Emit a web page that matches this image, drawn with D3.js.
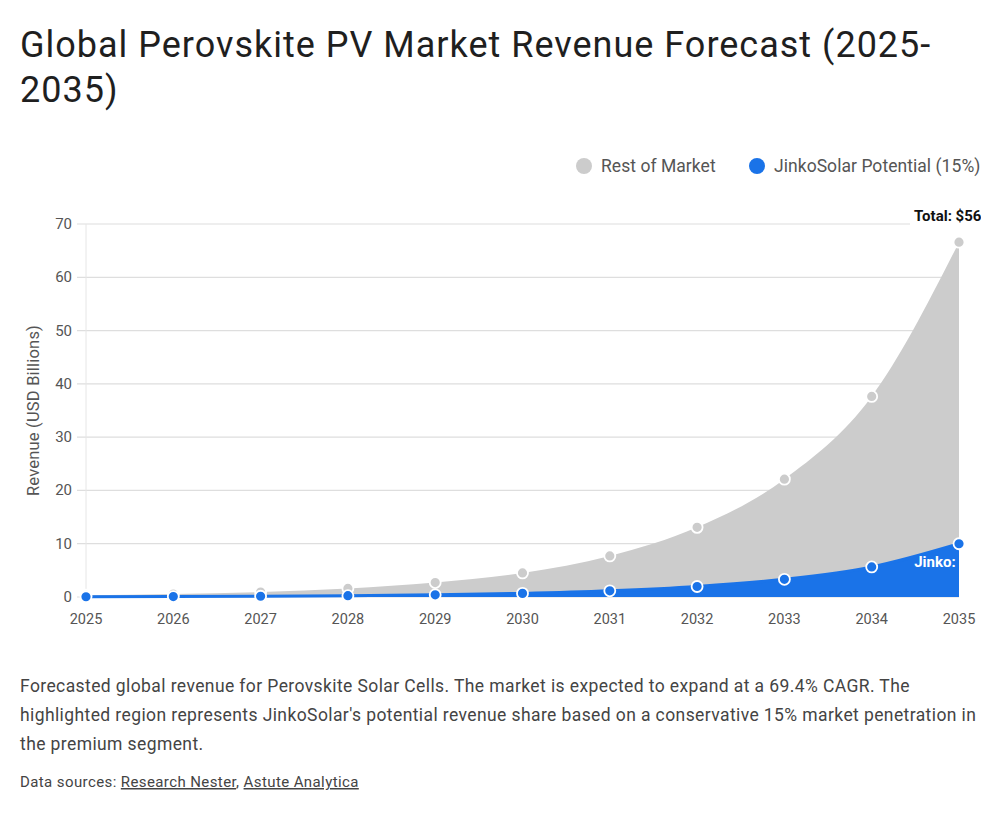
<!DOCTYPE html>
<html>
<head>
<meta charset="utf-8">
<script src="https://cdn.jsdelivr.net/npm/d3@7"></script>
<style>
  body { margin: 0; background: #fff; font-family: Roboto, "Open Sans", sans-serif; }
  #chart { position: absolute; left: 0; top: 0; }
</style>
</head>
<body>
<svg id="chart" width="1000" height="813"></svg>
<script>
const years = [2025, 2026, 2027, 2028, 2029, 2030, 2031, 2032, 2033, 2034, 2035];
const jinko = [0.05, 0.08, 0.14, 0.24, 0.41, 0.68, 1.16, 1.97, 3.32, 5.64, 9.99];
const rest = [0.28, 0.48, 0.80, 1.36, 2.30, 3.83, 6.55, 11.1, 18.8, 32.0, 56.6];
const yTicks = [0, 10, 20, 30, 40, 50, 60, 70];
const seriesNames = ['Rest of Market', 'JinkoSolar Potential (15%)'];
const titleLines = ['Global Perovskite PV Market Revenue Forecast (2025-', '2035)'];
const captionLines = [
  'Forecasted global revenue for Perovskite Solar Cells. The market is expected to expand at a 69.4% CAGR. The',
  "highlighted region represents JinkoSolar's potential revenue share based on a conservative 15% market penetration in",
  'the premium segment.'
];
const sources = ['Research Nester', 'Astute Analytica'];

const blue = '#1a73e8';
const gray = '#cccccc';

const svg = d3.select('#chart');
const plot = {left: 86, right: 959, top: 224, bottom: 597};

// title
svg.append('g').selectAll('text')
  .data(titleLines)
  .join('text')
  .attr('x', 20)
  .attr('y', (d, i) => 57 + i * 45)
  .attr('font-size', 36)
  .attr('letter-spacing', 1)
  .attr('fill', '#1f1f1f')
  .text(d => d);

// legend
const legend = svg.append('g');
const legendItems = [
  {name: seriesNames[0], color: gray, x: 584},
  {name: seriesNames[1], color: blue, x: 757}
];
legendItems.forEach(item => {
  legend.append('circle')
    .attr('cx', item.x).attr('cy', 166).attr('r', 8)
    .attr('fill', item.color);
  legend.append('text')
    .attr('x', item.x + 17).attr('y', 172)
    .attr('font-size', 17.5)
    .attr('letter-spacing', 0.05)
    .attr('fill', '#555')
    .text(item.name);
});

const data = years.map((yr, i) => ({year: yr, jinko: jinko[i], rest: rest[i]}));
const stacked = d3.stack().keys(['jinko', 'rest'])(data);

const x = d3.scaleLinear()
  .domain([years[0], years[years.length - 1]])
  .range([plot.left, plot.right]);
const y = d3.scaleLinear()
  .domain([0, 70])
  .range([plot.bottom, plot.top]);

// grid
svg.append('g').selectAll('line')
  .data(yTicks)
  .join('line')
  .attr('x1', plot.left - 9).attr('x2', plot.right)
  .attr('y1', d => y(d)).attr('y2', d => y(d))
  .attr('stroke', '#dedede')
  .attr('stroke-width', 1.2);
svg.append('line')
  .attr('x1', plot.left).attr('x2', plot.left)
  .attr('y1', plot.top).attr('y2', plot.bottom)
  .attr('stroke', '#e6e6e6');

// y ticks
svg.append('g').selectAll('text')
  .data(yTicks)
  .join('text')
  .attr('x', 72)
  .attr('y', d => y(d) + 5)
  .attr('text-anchor', 'end')
  .attr('font-size', 15)
  .attr('fill', '#555')
  .text(d => d);

// x ticks
svg.append('g').selectAll('text')
  .data(years)
  .join('text')
  .attr('x', d => x(d))
  .attr('y', 624)
  .attr('text-anchor', 'middle')
  .attr('font-size', 14.5)
  .attr('fill', '#555')
  .text(d => d);

// y label
svg.append('text')
  .attr('transform', `translate(39, ${(plot.top + plot.bottom) / 2}) rotate(-90)`)
  .attr('text-anchor', 'middle')
  .attr('font-size', 16.5)
  .attr('letter-spacing', 0.2)
  .attr('fill', '#555')
  .text('Revenue (USD Billions)');

const curve = d3.curveMonotoneX;
const area = d3.area()
  .x(d => x(d.data.year))
  .y0(d => y(d[0]))
  .y1(d => y(d[1]))
  .curve(curve);
const topLine = d3.line()
  .x(d => x(d.data.year))
  .y(d => y(d[1]))
  .curve(curve);

const colors = {jinko: blue, rest: gray};

svg.append('g').selectAll('path.area')
  .data(stacked.slice().reverse())
  .join('path')
  .attr('class', 'area')
  .attr('d', area)
  .attr('fill', d => colors[d.key]);

svg.append('path')
  .attr('d', topLine(stacked[0]))
  .attr('fill', 'none')
  .attr('stroke', blue)
  .attr('stroke-width', 3);

// points
stacked.slice().reverse().forEach(s => {
  svg.append('g').selectAll('circle')
    .data(s)
    .join('circle')
    .attr('cx', d => x(d.data.year))
    .attr('cy', d => y(d[1]))
    .attr('r', 5.5)
    .attr('fill', colors[s.key])
    .attr('stroke', '#fff')
    .attr('stroke-width', 1.8);
});

// end labels
const defs = svg.append('defs');
defs.append('clipPath').attr('id', 'clip-canvas')
  .append('rect').attr('x', 0).attr('y', 0).attr('width', 981).attr('height', 813);
defs.append('clipPath').attr('id', 'clip-plot')
  .append('rect').attr('x', plot.left).attr('y', plot.top)
  .attr('width', plot.right - plot.left).attr('height', plot.bottom - plot.top);

const last = data.length - 1;
const totalLabel = svg.append('g').attr('clip-path', 'url(#clip-canvas)');
totalLabel.append('rect')
  .attr('x', x(years[last]) - 49).attr('y', 205)
  .attr('width', 110).attr('height', 22)
  .attr('fill', '#fff');
totalLabel.append('text')
  .attr('x', x(years[last]))
  .attr('y', y(stacked[1][last][1]) - 21)
  .attr('text-anchor', 'middle')
  .attr('font-size', 15)
  .attr('font-weight', 'bold')
  .attr('fill', '#111')
  .text(`Total: $${rest[last].toFixed(1)}B`);

svg.append('g').attr('clip-path', 'url(#clip-plot)')
  .append('text')
  .attr('x', x(years[last]) + 2)
  .attr('y', y(stacked[0][last][1]) + 23)
  .attr('text-anchor', 'middle')
  .attr('font-size', 15)
  .attr('font-weight', 'bold')
  .attr('fill', '#fff')
  .text(`Jinko: $${jinko[last].toFixed(1)}B`);

// caption
svg.append('g').selectAll('text')
  .data(captionLines)
  .join('text')
  .attr('x', 20)
  .attr('y', (d, i) => 692 + i * 29)
  .attr('font-size', 17.5)
  .attr('letter-spacing', 0.4)
  .attr('fill', '#444')
  .text(d => d);

const src = svg.append('text')
  .attr('x', 20).attr('y', 787)
  .attr('font-size', 15)
  .attr('letter-spacing', 0.4)
  .attr('fill', '#444');
src.append('tspan').text('Data sources: ');
src.append('tspan').attr('text-decoration', 'underline').text(sources[0]);
src.append('tspan').text(', ');
src.append('tspan').attr('text-decoration', 'underline').text(sources[1]);
</script>
</body>
</html>
